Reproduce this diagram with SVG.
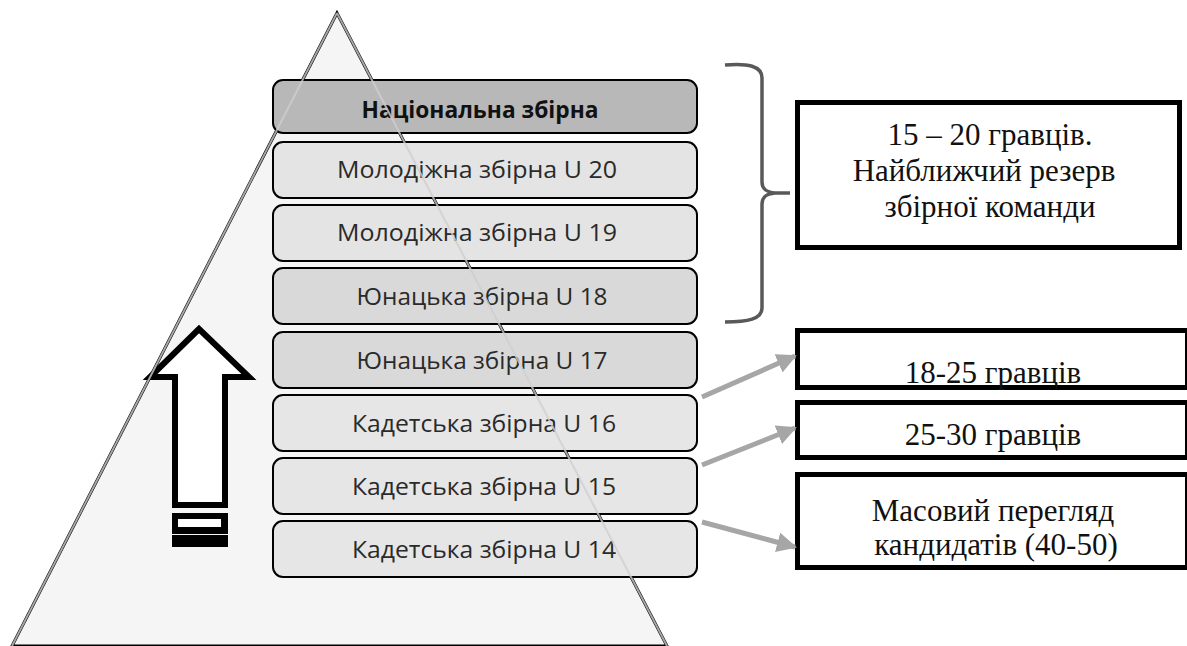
<svg xmlns="http://www.w3.org/2000/svg" width="1187" height="646" viewBox="0 0 1187 646">
<defs>
<style>
.lvl{stroke:#000;stroke-width:2}
.lt{font-family:"Open Sans","Noto Sans",sans-serif;font-size:23px;fill:#2a2a2a;text-anchor:middle}
.bold{font-weight:bold;fill:#111}
.info{fill:#fff;stroke:#000;stroke-width:5}
.st{font-family:"Liberation Serif","Times New Roman",serif;font-size:31px;fill:#111;text-anchor:middle}
.conn{stroke:#a6a6a6;stroke-width:5;fill:none;marker-end:url(#ah)}
</style>
<marker id="ah" viewBox="0 0 10 10" refX="9" refY="5" markerWidth="4" markerHeight="4" orient="auto" markerUnits="strokeWidth">
<path d="M0,0 L10,5 L0,10 z" fill="#a6a6a6"/>
</marker>
</defs>
<rect width="1187" height="646" fill="#fff"/>
<g id="pyramid">
<polygon points="337,13 12,646 667,646" fill="#f5f5f5" stroke="#000" stroke-width="3" stroke-linejoin="miter"/>
</g>
<g id="up-arrow">
<polygon points="199,329 150,377 175,377 175,505 225,505 225,377 249,377" fill="#fff" stroke="#000" stroke-width="6" stroke-linejoin="miter"/>
<rect x="172" y="513" width="56" height="21" fill="#000"/>
<rect x="178" y="519" width="43" height="8" fill="#fff"/>
<rect x="172" y="535" width="56" height="12" fill="#000"/>
</g>
<g id="level-national"><rect class="lvl" x="273" y="80" width="424" height="53" rx="10" fill="#b8b8b8"/><text class="lt bold" x="480" y="118" textLength="237" lengthAdjust="spacingAndGlyphs">Національна збірна</text></g>
<g id="level-u20"><rect class="lvl" x="273" y="142" width="424" height="56" rx="10" fill="#e4e4e4"/><text class="lt" x="477" y="178" textLength="280" lengthAdjust="spacingAndGlyphs">Молодіжна збірна U 20</text></g>
<g id="level-u19"><rect class="lvl" x="273" y="205" width="424" height="56" rx="10" fill="#e4e4e4"/><text class="lt" x="477" y="241" textLength="280" lengthAdjust="spacingAndGlyphs">Молодіжна збірна U 19</text></g>
<g id="level-u18"><rect class="lvl" x="273" y="268" width="424" height="56" rx="10" fill="#d9d9d9"/><text class="lt" x="482" y="305" textLength="251" lengthAdjust="spacingAndGlyphs">Юнацька збірна U 18</text></g>
<g id="level-u17"><rect class="lvl" x="273" y="332" width="424" height="56" rx="10" fill="#d9d9d9"/><text class="lt" x="482" y="369" textLength="251" lengthAdjust="spacingAndGlyphs">Юнацька збірна U 17</text></g>
<g id="level-u16"><rect class="lvl" x="273" y="395" width="424" height="56" rx="10" fill="#e6e6e6"/><text class="lt" x="484" y="432" textLength="264" lengthAdjust="spacingAndGlyphs">Кадетська збірна U 16</text></g>
<g id="level-u15"><rect class="lvl" x="273" y="458" width="424" height="56" rx="10" fill="#e6e6e6"/><text class="lt" x="484" y="495" textLength="264" lengthAdjust="spacingAndGlyphs">Кадетська збірна U 15</text></g>
<g id="level-u14"><rect class="lvl" x="273" y="521" width="424" height="56" rx="10" fill="#e6e6e6"/><text class="lt" x="484" y="558" textLength="264" lengthAdjust="spacingAndGlyphs">Кадетська збірна U 14</text></g>
<g id="pyramid-overlay" fill="none" stroke="#cfcfcf" stroke-width="2" opacity="0.8">
<line x1="337" y1="13" x2="12" y2="646"/>
<line x1="337" y1="13" x2="667" y2="646"/>
</g>
<g id="brace">
<path d="M725,65 C748,63 762,66 762,78 L762,182 C762,189 766,192 775,193 L790,193 M775,193 C766,194 762,197 762,204 L762,308 C762,319 748,322 725,322" fill="none" stroke="#595959" stroke-width="3.5"/>
</g>
<g id="info-reserve"><rect class="info" x="797.5" y="102.5" width="382" height="145"/>
<text class="st" x="990" y="145">15 – 20 гравців.</text>
<text class="st" x="984" y="181">Найближчий резерв</text>
<text class="st" x="990" y="217">збірної команди</text></g>
<g id="info-18-25"><rect class="info" x="797.5" y="330.5" width="390" height="57"/><text class="st" x="993" y="383">18-25 гравців</text></g>
<g id="info-25-30"><rect class="info" x="797.5" y="402.5" width="390" height="55"/><text class="st" x="993" y="445">25-30 гравців</text></g>
<g id="info-mass"><rect class="info" x="797.5" y="474.5" width="390" height="93"/>
<text class="st" x="993" y="521">Масовий перегляд</text>
<text class="st" x="996" y="555">кандидатів (40-50)</text></g>
<g id="connectors">
<line class="conn" x1="702" y1="397" x2="795" y2="356"/>
<line class="conn" x1="702" y1="465" x2="795" y2="428"/>
<line class="conn" x1="702" y1="522" x2="795" y2="547"/>
</g>
</svg>
